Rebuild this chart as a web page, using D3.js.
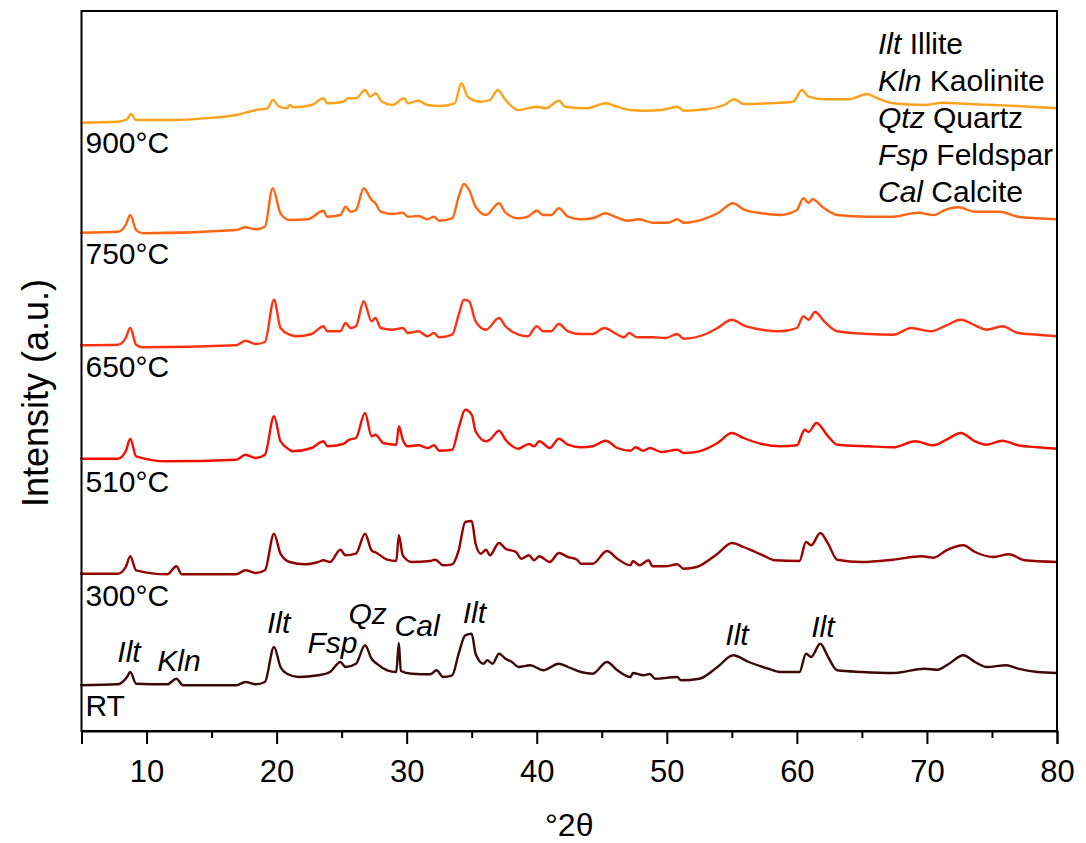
<!DOCTYPE html>
<html>
<head>
<meta charset="utf-8">
<script src="https://cdn.jsdelivr.net/npm/d3@7"></script>
<style>
  body { margin: 0; background: #ffffff; }
  svg text { font-family: "Liberation Sans", Arial, sans-serif; fill: #000; }
</style>
</head>
<body>
<svg id="chart"></svg>
<script>
'use strict';

// ------------------------------------------------------------
// data: [2theta, intensity (a.u.)]
// ------------------------------------------------------------
const seriesNames = ["RT", "300°C", "510°C", "650°C", "750°C", "900°C"];
const seriesOffsets = [44, 154, 268, 383, 496, 607];
const seriesColors = ["#3c0808", "#960000", "#f20f00", "#ff3312", "#ff6614", "#ffa11a"];

const patternRT = [[4.9,1.7],[7.8,2.7],[8.5,10],[8.75,15],[9.2,3.3],[11.6,2.7],[12.3,8.3],[12.8,1.7],[16.9,1.7],[17.6,5],[18.4,2.7],[19.1,5],[19.8,40],[20.3,20],[20.8,13.3],[21.7,10],[23.2,11.7],[24.1,15],[24.9,25],[25.3,20],[26.1,23.3],[26.8,41.7],[27.3,28.3],[27.7,23.3],[28.5,16.7],[29.2,15],[29.4,44],[29.55,16],[30.4,13.3],[31.8,12.7],[32.3,16.7],[32.8,10],[33.5,11.7],[34.0,33.3],[34.5,51.7],[35.0,53.3],[35.3,33.3],[35.9,23.3],[36.2,26.7],[36.6,23.3],[37.1,33.3],[37.6,28.3],[38.1,25],[38.6,20],[39.5,21.7],[40.5,16.7],[41.7,23.3],[42.4,20],[43.4,15],[44.3,13.3],[45.4,25],[46.2,16.7],[47.2,10],[47.4,14],[48.2,11.7],[48.7,13],[49.1,8.3],[50.8,10],[51.1,6.7],[52.5,8.3],[53.9,20],[55.1,31.7],[56.3,25],[57.8,18.3],[58.7,15],[60.2,15],[60.7,33.3],[61.1,30],[61.8,43.3],[62.4,30],[63.1,16.7],[65.0,15],[67.4,14],[69.8,18.3],[70.8,17.3],[71.7,23.3],[72.8,31.7],[73.7,25],[74.6,20],[76.1,21.7],[77.0,18.3],[78.5,15],[80,14]];

const pattern300 = [[4.9,3.3],[7.8,3.3],[8.4,10],[8.75,20.7],[9.2,6.7],[11.6,2.7],[12.3,10.7],[12.7,2.7],[16.9,2.7],[17.6,6.7],[18.4,4],[19.1,6.7],[19.8,43.3],[20.3,23.3],[21.0,15],[22.2,12.7],[23.2,15],[23.6,16.7],[24.1,15],[24.9,27.3],[25.3,21.7],[26.1,23.3],[26.8,43.3],[27.3,26.7],[27.7,24],[28.5,17.3],[29.2,16],[29.4,41.7],[29.7,21.7],[30.4,15],[31.8,16],[32.2,17.3],[32.8,11.7],[33.5,12.7],[34.0,26.7],[34.5,55],[35.0,56],[35.3,33.3],[35.7,23.3],[36.1,27.3],[36.4,21.7],[37.1,34],[37.6,28.3],[38.4,25],[38.8,18.3],[39.4,21.7],[39.8,16.7],[40.2,20.7],[41.0,15],[41.7,24],[42.4,20],[43.1,17.3],[43.4,13.3],[44.3,13.3],[45.4,26],[46.2,18.3],[47.2,11.7],[47.4,16],[47.9,11.7],[48.6,16.7],[48.9,10.7],[49.9,10.7],[50.8,12.7],[51.3,8.3],[52.3,10],[53.9,23.3],[55.0,34],[55.9,30],[56.8,25],[57.4,21.7],[58.3,16.7],[60.2,16],[60.7,35],[61.1,31.7],[61.8,44],[62.4,33.3],[63.1,17.3],[65.0,15],[67.4,17.3],[69.6,20.7],[70.5,19.3],[71.5,26.7],[72.8,31.7],[73.7,25],[75.1,20],[76.3,22.7],[77.5,16.7],[80,15]];

const pattern510 = [[4.9,4.3],[7.8,4.3],[8.4,11.7],[8.75,24.3],[9.2,6.7],[11.6,1.7],[16.9,3.3],[17.6,8.3],[18.4,5],[19.1,8.3],[19.8,46.7],[20.3,21.7],[21.0,13.3],[21.2,11.7],[22.7,15],[23.6,21.7],[23.9,16.7],[25.1,19],[25.6,23.3],[26.1,25],[26.8,50],[27.3,26.7],[27.6,28.3],[28.2,20],[29.2,18.3],[29.4,36.7],[29.7,23.3],[30.1,16.7],[30.9,17.7],[31.6,15],[32.1,17.7],[32.5,12.3],[33.5,13.3],[34.0,35],[34.5,53.3],[35.0,48.3],[35.3,31.7],[36.1,21.7],[36.4,23.3],[37.1,32.3],[37.6,23.3],[38.6,14.3],[39.4,19],[39.8,16.7],[40.2,21.7],[41.0,15],[41.7,24.3],[42.4,18.3],[43.4,15.7],[44.3,16.7],[45.3,22.3],[46.2,15],[47.2,12.3],[47.6,15.7],[48.2,12.3],[48.7,15],[49.6,11],[50.8,13.3],[51.3,10],[52.5,11.7],[53.9,20],[55.0,30],[55.9,25],[57.3,19],[58.7,16.7],[60.0,17.7],[60.6,33.3],[60.9,31],[61.5,40],[62.4,26.7],[63.1,18.3],[65.5,16.7],[67.4,15.7],[69.1,21.7],[70.5,17.7],[71.5,23.3],[72.6,30],[73.7,21.7],[74.6,18.3],[75.8,22.3],[77.0,17.7],[78.5,15.7],[80,14.3]];

const pattern650 = [[4.9,2.7],[7.8,3.3],[8.4,10],[8.75,20],[9.2,3.3],[9.7,0.7],[16.9,2.7],[17.6,7.3],[18.4,4],[19.1,6],[19.8,48.3],[20.3,20],[21.0,13.3],[21.5,11.7],[22.7,14],[23.6,21.7],[23.9,16.7],[24.9,16.7],[25.3,25],[25.7,20],[26.1,21.7],[26.7,46.7],[27.3,26.7],[27.6,30],[28.0,20],[28.9,18.3],[29.7,20],[30.1,15],[30.9,16.7],[31.6,11.7],[32.1,15],[32.5,10.7],[33.5,13.3],[34.0,33.3],[34.4,48.3],[34.8,46.7],[35.3,26.7],[36.1,18.3],[37.1,30],[37.6,21.7],[38.6,13.3],[39.3,11.7],[40.0,21.7],[40.5,16.7],[41.1,16.7],[41.7,24],[42.4,16.7],[43.4,14],[44.3,14],[45.2,20],[46.0,15],[46.7,10.7],[47.1,15],[47.7,10.7],[48.9,10.7],[49.9,10],[50.8,14],[51.3,9.3],[53.0,14],[53.9,20],[55.0,28.3],[55.9,22.7],[57.3,18.3],[58.7,16.7],[60.0,20],[60.5,31.7],[60.9,28.3],[61.4,36],[62.1,26.7],[63.1,16.7],[65.5,14],[67.4,13.3],[68.8,20],[70.3,16.7],[71.5,22.7],[72.6,28.3],[73.7,22.7],[74.6,18.3],[75.8,21.7],[77.0,15],[78.5,13.3],[80,11.7]];

const pattern750 = [[4.9,2.3],[7.8,3.3],[8.4,10],[8.75,20],[9.2,5],[9.7,1.7],[16.9,5],[17.6,7.7],[18.4,5.7],[19.1,8.3],[19.7,46.7],[20.3,21.7],[21.0,15],[22.4,15.7],[23.6,24.3],[23.9,18.3],[24.9,20],[25.3,28.3],[25.7,23.3],[26.1,25],[26.7,46.7],[27.3,35],[27.6,31.7],[28.0,23.3],[28.9,21],[29.7,22.3],[30.1,18.3],[30.9,19],[31.6,15.7],[32.1,18.3],[32.5,14.3],[33.5,16.7],[34.0,38.3],[34.4,51],[34.8,45],[35.3,28.3],[36.1,20],[37.1,31.7],[37.6,22.3],[38.6,16.7],[39.3,18.3],[40.0,24.3],[40.5,20],[41.1,20],[41.7,26.7],[42.4,18.3],[43.4,15.7],[44.3,16.7],[45.3,21.7],[46.0,18.3],[47.0,14.3],[47.9,15.7],[48.9,12.3],[50.1,12.3],[50.8,15.7],[51.3,12.3],[53.0,16.7],[53.9,21.7],[55.1,31.7],[55.9,25.7],[57.3,21.7],[58.7,20],[60.0,25],[60.5,36.7],[60.9,32.3],[61.2,35.7],[62.1,26.7],[63.1,20],[65.5,18.3],[67.4,18.3],[69.3,22.3],[70.5,20],[71.5,25.7],[72.4,27.7],[73.7,23.3],[75.6,23.3],[77.0,18.3],[78.5,16.7],[80,15.7]];

const pattern900 = [[4.9,1.3],[7.8,2.3],[8.5,4.7],[8.8,10],[9.2,4],[12.1,4],[14.5,5.7],[16.9,9],[18.4,14],[19.3,15.7],[19.7,24],[20.2,17.3],[20.8,15.7],[21.0,19],[21.3,16.7],[22.7,19],[23.6,25.7],[23.9,20.7],[25.1,22.3],[25.5,25.7],[26.1,25.7],[26.8,34],[27.2,27.3],[27.6,30.7],[28.1,22.3],[28.9,19],[29.8,25.7],[30.1,20.7],[30.9,23.3],[31.6,19],[32.5,18],[33.7,20.7],[34.2,40.7],[34.7,27.3],[35.7,22.3],[36.4,24],[37.0,34],[37.6,24],[38.6,14],[40.0,17.3],[40.7,15.7],[41.7,23.3],[42.2,17.3],[43.8,15.7],[45.3,20.7],[46.2,17.3],[47.2,14],[48.2,13.3],[49.6,14],[50.8,17.3],[51.3,13.3],[53.0,14.7],[54.4,19],[55.2,24.7],[55.9,20],[57.8,20.7],[59.7,22.3],[60.4,34],[60.9,27.3],[62.1,24.7],[64.0,24.7],[65.4,30],[66.2,25.7],[67.4,20.7],[69.8,19],[71.2,21.3],[73.2,20],[75.1,19],[77.0,18],[80,15.7]];

const patterns = [patternRT, pattern300, pattern510, pattern650, pattern750, pattern900];

// phase markers above the RT pattern: [label, 2theta, height above RT offset]
const phaseMarks = [["Ilt", 8.65, 25], ["Kln", 12.5, 16], ["Ilt", 20.15, 54], ["Fsp", 24.3, 34],
                    ["Qz", 27.0, 63], ["Cal", 30.8, 51], ["Ilt", 35.2, 64], ["Ilt", 55.4, 42], ["Ilt", 62.0, 50]];

const legendAbbr = ["Ilt", "Kln", "Qtz", "Fsp", "Cal"];
const legendFull = ["Illite", "Kaolinite", "Quartz", "Feldspar", "Calcite"];

const majorTicks = [10, 20, 30, 40, 50, 60, 70, 80];
const minorTicks = [5, 15, 25, 35, 45, 55, 65, 75];

//------------------------------------------------------------
// plot
//------------------------------------------------------------
const width = 1086, height = 843;
const margin = {left: 81.5, right: 29, top: 11, bottom: 112};

const svg = d3.select("#chart")
    .attr("width", width)
    .attr("height", height);

svg.append("rect").attr("width", width).attr("height", height).attr("fill", "#ffffff");

const x = d3.scaleLinear().domain([5, 80]).range([margin.left, width - margin.right]);
const y = d3.scaleLinear().domain([0, 720]).range([height - margin.bottom, margin.top]);

const plotG = svg.append("g");

// diffractograms, stacked by offset
patterns.forEach((pat, i) => {
    const line = d3.line()
        .x(d => x(d[0]))
        .y(d => y(d[1] + seriesOffsets[i]))
        .curve(d3.curveMonotoneX);
    plotG.append("path")
        .datum(pat)
        .attr("d", line)
        .attr("fill", "none")
        .attr("stroke", seriesColors[i])
        .attr("stroke-width", 2.4)
        .attr("stroke-linejoin", "round");

    plotG.append("text")
        .attr("x", x(5) + 4)
        .attr("y", y(seriesOffsets[i] - 29))
        .attr("font-size", 30)
        .text(seriesNames[i]);
});

// phase labels
plotG.selectAll(".phase")
    .data(phaseMarks)
    .enter()
    .append("text")
    .attr("class", "phase")
    .attr("x", d => x(d[1]))
    .attr("y", d => y(d[2] + seriesOffsets[0]))
    .attr("text-anchor", "middle")
    .attr("font-size", 30)
    .attr("font-style", "italic")
    .text(d => d[0]);

// legend
const legend = svg.append("g");
legendAbbr.forEach((abbr, i) => {
    const t = legend.append("text")
        .attr("x", 878)
        .attr("y", 54 + i * 37)
        .attr("font-size", 30);
    t.append("tspan").attr("font-style", "italic").text(abbr);
    t.append("tspan").text(" " + legendFull[i]);
});

// frame
svg.append("rect")
    .attr("x", x(5)).attr("y", y(720))
    .attr("width", x(80) - x(5)).attr("height", y(0) - y(720))
    .attr("fill", "none")
    .attr("stroke", "#000")
    .attr("stroke-width", 2);

// bottom axis
const xAxis = d3.axisBottom(x)
    .tickValues(majorTicks)
    .tickSize(13)
    .tickPadding(16)
    .tickFormat(d3.format("d"));

const axG = svg.append("g")
    .attr("transform", `translate(0,${y(0)})`)
    .call(xAxis);
axG.select(".domain").attr("stroke-width", 2);
axG.selectAll(".tick line").attr("stroke-width", 2);
axG.selectAll(".tick text")
    .attr("font-size", 31)
    .attr("font-family", "\"Liberation Sans\", Arial, sans-serif")
    .attr("fill", "#000");

const minorAxis = d3.axisBottom(x)
    .tickValues(minorTicks)
    .tickSize(7)
    .tickFormat("");
const minG = svg.append("g")
    .attr("transform", `translate(0,${y(0)})`)
    .call(minorAxis);
minG.select(".domain").remove();
minG.selectAll(".tick line").attr("stroke-width", 2);

// axis titles
svg.append("text")
    .attr("x", (x(5) + x(80)) / 2)
    .attr("y", 836)
    .attr("text-anchor", "middle")
    .attr("font-size", 32)
    .text("°2θ");

svg.append("text")
    .attr("transform", "translate(48,393) rotate(-90)")
    .attr("text-anchor", "middle")
    .attr("font-size", 36)
    .text("Intensity (a.u.)");
</script>
</body>
</html>
